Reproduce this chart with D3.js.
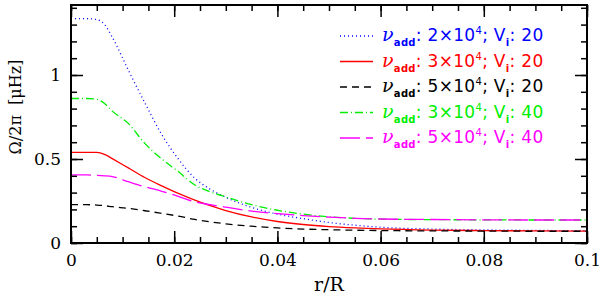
<!DOCTYPE html>
<html lang="en">
<head>
<meta charset="utf-8">
<title>Omega profile</title>
<script src="https://cdn.jsdelivr.net/npm/d3@7"></script>
<style>
  body { margin: 0; background: #fff; }
  svg { display: block; }
</style>
</head>
<body>
<script>
// r/R sample points shared by all curves
var rR = [0, 0.003, 0.005, 0.0065, 0.008, 0.0111, 0.0143, 0.0176, 0.0208, 0.024, 0.027,
          0.030, 0.035, 0.040, 0.045, 0.050, 0.055, 0.060, 0.070, 0.080, 0.090, 0.100];

// Omega/2pi in muHz
var blue2e4 = [1.335, 1.335, 1.33, 1.30, 1.225, 1.03, 0.835, 0.645, 0.50, 0.385, 0.32,
               0.272, 0.212, 0.172, 0.145, 0.122, 0.106, 0.094, 0.083, 0.078, 0.075, 0.073];
var red3e4 = [0.54, 0.54, 0.54, 0.528, 0.502, 0.447, 0.39, 0.34, 0.295, 0.255, 0.222,
              0.193, 0.155, 0.128, 0.11, 0.098, 0.09, 0.084, 0.077, 0.074, 0.072, 0.071];
var black5e4 = [0.228, 0.228, 0.226, 0.222, 0.216, 0.206, 0.192, 0.176, 0.16, 0.14, 0.126,
                0.114, 0.1, 0.09, 0.083, 0.079, 0.076, 0.074, 0.072, 0.071, 0.07, 0.07];
var green3e4 = [0.86, 0.86, 0.855, 0.83, 0.785, 0.712, 0.593, 0.50, 0.425, 0.345, 0.305,
                0.274, 0.228, 0.195, 0.172, 0.156, 0.147, 0.142, 0.139, 0.138, 0.137, 0.137];
var mag5e4 = [0.405, 0.405, 0.403, 0.40, 0.395, 0.365, 0.335, 0.308, 0.278, 0.245, 0.228,
              0.213, 0.19, 0.175, 0.163, 0.154, 0.147, 0.143, 0.14, 0.138, 0.137, 0.137];

var nuAdd = ["2", "3", "5", "3", "5"];
var vI = ["20", "20", "20", "40", "40"];
var colors = ["#0000ff", "#ff0000", "#000000", "#00ee00", "#ff00ff"];
var dashes = ["1,3", null, "7,5", "8,3,1,3", "20,6"];

var xTicks = [0, 0.02, 0.04, 0.06, 0.08, 0.1];
var xLabels = ["0", "0.02", "0.04", "0.06", "0.08", "0.1"];
var yTicks = [0, 0.5, 1];
var yLabels = ["0", "0.5", "1"];

var W = 600, H = 297;
var pL = 71, pR = 587, pT = 5, pB = 243;

var x = d3.scaleLinear().domain([0, 0.1]).range([pL, pR]);
var y = d3.scaleLinear().domain([0, (pB - pT) / 168]).range([pB, pT]);

var svg = d3.select("body").append("svg").attr("width", W).attr("height", H);

var series = [blue2e4, red3e4, black5e4, green3e4, mag5e4];

var line = d3.line()
  .x(function(d, i) { return x(rR[i]); })
  .y(function(d) { return y(d); })
  .curve(d3.curveMonotoneX);

svg.append("g").selectAll("path")
  .data(series)
  .enter().append("path")
  .attr("d", line)
  .attr("fill", "none")
  .attr("stroke", function(d, i) { return colors[i]; })
  .attr("stroke-width", 1.3)
  .attr("stroke-dasharray", function(d, i) { return dashes[i]; });

// ticks
var xMinor = d3.range(0, 0.1001, 0.005);
var yMinor = d3.range(0, 1.41, 0.1);
var fmtX = function(d) { var i = xTicks.findIndex(function(t) { return Math.abs(t - d) < 1e-9; }); return xLabels[i]; };
var fmtY = function(d) { var i = yTicks.findIndex(function(t) { return Math.abs(t - d) < 1e-9; }); return yLabels[i]; };

function style(g) {
  g.select(".domain").remove();
  g.selectAll("line").attr("stroke", "#000").attr("stroke-width", 1.5);
}

svg.append("g").attr("transform", "translate(0," + pB + ")")
  .call(d3.axisBottom(x).tickValues(xMinor).tickSize(-6).tickFormat(""))
  .call(style);
svg.append("g").attr("transform", "translate(0," + pT + ")")
  .call(d3.axisTop(x).tickValues(xMinor).tickSize(-6).tickFormat(""))
  .call(style);
svg.append("g").attr("transform", "translate(" + pL + ",0)")
  .call(d3.axisLeft(y).tickValues(yMinor).tickSize(-6).tickFormat(""))
  .call(style);
svg.append("g").attr("transform", "translate(" + pR + ",0)")
  .call(d3.axisRight(y).tickValues(yMinor).tickSize(-6).tickFormat(""))
  .call(style);

svg.append("g").attr("transform", "translate(0," + pB + ")")
  .call(d3.axisBottom(x).tickValues(xTicks).tickSize(-12).tickPadding(11).tickFormat(fmtX))
  .call(style);
svg.append("g").attr("transform", "translate(0," + pT + ")")
  .call(d3.axisTop(x).tickValues(xTicks).tickSize(-12).tickFormat(""))
  .call(style);
svg.append("g").attr("transform", "translate(" + pL + ",0)")
  .call(d3.axisLeft(y).tickValues(yTicks).tickSize(-12).tickPadding(10).tickFormat(fmtY))
  .call(style);
svg.append("g").attr("transform", "translate(" + pR + ",0)")
  .call(d3.axisRight(y).tickValues(yTicks).tickSize(-12).tickFormat(""))
  .call(style);

svg.selectAll("g text")
  .attr("font-family", "DejaVu Serif")
  .attr("font-size", 17)
  .attr("fill", "#000");

// frame
svg.append("rect")
  .attr("x", pL).attr("y", pT)
  .attr("width", pR - pL).attr("height", pB - pT)
  .attr("fill", "none").attr("stroke", "#000").attr("stroke-width", 2);

// axis titles
svg.append("text")
  .attr("x", (pL + pR) / 2).attr("y", 291)
  .attr("text-anchor", "middle")
  .attr("font-family", "DejaVu Serif").attr("font-size", 19)
  .text("r/R");

svg.append("text")
  .attr("transform", "translate(21,107) rotate(-90)")
  .attr("text-anchor", "middle")
  .attr("font-family", "DejaVu Serif").attr("font-size", 16)
  .text("Ω/2π\u00a0\u00a0[μHz]");

// legend
var leg = svg.append("g");
nuAdd.forEach(function(n, i) {
  var by = 41 + i * 25.5;
  leg.append("line")
    .attr("x1", 340).attr("x2", 373)
    .attr("y1", by - 5).attr("y2", by - 5)
    .attr("stroke", colors[i]).attr("stroke-width", 1.3)
    .attr("stroke-dasharray", dashes[i]);
  var t = leg.append("text")
    .attr("x", 382).attr("y", by)
    .attr("fill", colors[i])
    .attr("letter-spacing", 0.3)
    .attr("font-family", "DejaVu Sans").attr("font-size", 17);
  t.append("tspan").attr("font-family", "DejaVu Serif").attr("font-style", "italic").attr("font-size", 19).text("ν");
  t.append("tspan").attr("font-size", 10).attr("font-weight", "bold").attr("dy", 5).text("add");
  t.append("tspan").attr("dy", -5).text(":\u00a0" + n + "×10");
  t.append("tspan").attr("font-size", 10).attr("dy", -7).text("4");
  t.append("tspan").attr("dy", 7).text(";\u00a0V");
  t.append("tspan").attr("font-size", 10).attr("font-weight", "bold").attr("dy", 5).text("i");
  t.append("tspan").attr("dy", -5).text(":\u00a0" + vI[i]);
});
</script>
</body>
</html>
